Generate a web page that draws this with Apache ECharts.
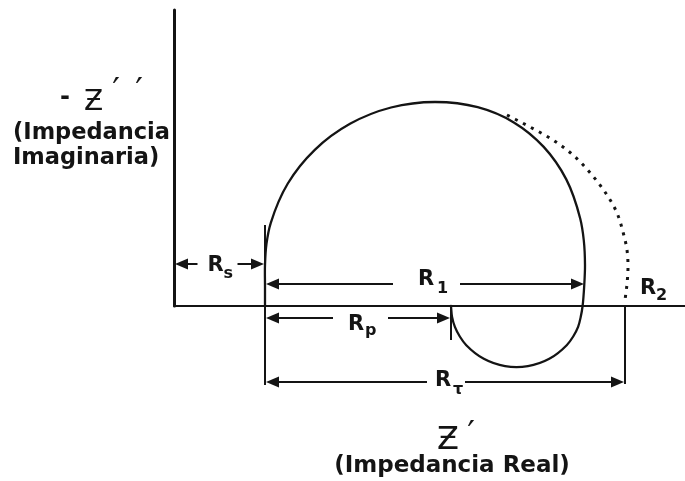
<!DOCTYPE html>
<html>
<head>
<meta charset="utf-8">
<script src="https://cdn.jsdelivr.net/npm/echarts@6/dist/echarts.min.js"></script>
<style>
  html, body { margin: 0; padding: 0; background: #ffffff; }
  #chart { width: 685px; height: 481px; }
</style>
</head>
<body>
<div id="chart"></div>
<script>
// Nyquist plot of an equivalent circuit: -Z'' against Z'.
// Resistances read along the real axis (arbitrary units).
const rs = 91;    // series resistance
const rp = 186;   // polarization resistance
const r1 = 320;   // diameter of the capacitive arc
const rt = 360;   // total resistance beyond rs

// Measured impedance path: capacitive arc, then inductive loop below the axis
const arcReal = [91, 91, 91, 92.5, 96.8, 113.8, 140.8, 176, 217, 261, 303.7, 339.8, 369.7, 392.3, 406.2, 409.8, 411, 410.2, 408.6, 406.8, 404.1, 399.2, 392.7, 375.3, 353.9, 331.1, 309.8, 292.3, 285.8, 280.9, 278, 277];
const arcImag = [0, 20, 41, 62.3, 83.2, 122.5, 156.2, 182.2, 198.5, 204, 198.8, 183.6, 159.1, 126.6, 87.5, 65.5, 41, 20, 0, -10.6, -20.9, -30.5, -39.2, -52.8, -60.1, -60.1, -52.8, -39.2, -30.5, -20.9, -10.6, 0];

// Extrapolated low-frequency branch ending at R2
const extReal = [333, 356, 379, 399, 418, 433, 443, 449, 453, 454, 453, 451];
const extImag = [191, 179, 166, 151, 131, 111, 93, 74, 56, 39, 22, 6];

// Dimension lines: start and end on the real axis
const dimNames = ['Rs', 'R1', 'Rp', 'RT'];
const dimStart = [0, rs, rs, rs];
const dimEnd = [rs, rs + r1, rs + rp, rs + rt];

// Vertical reference marks on the real axis
const markAt = [rs, rs + rp, rs + rt];

// ---- layout and styling ----
const INK = '#141414';
const LABEL_FONT = '"DejaVu Sans", sans-serif';

// level: height of each dimension line (axis units); gaps and label offsets in pixels
const dimLayout = [
  { level: 42,  gapL: 22, gapR: 18, main: 'R', sub: 's', rx: -12, ry: 2,  sx: 4,  sy: 10 },
  { level: 22,  gapL: 32, gapR: 35, main: 'R', sub: '1', rx: -7,  ry: -4, sx: 12, sy: 5 },
  { level: -12, gapL: 25, gapR: 30, main: 'R', sub: 'p', rx: -10, ry: 7,  sx: 7,  sy: 13 },
  { level: -76, gapL: 18, gapR: 20, main: 'R', sub: 'τ', rx: -10, ry: -1, sx: 8,  sy: 8 }
];
const markLayout = [
  { top: 81, bottom: -79 },
  { top: 0,  bottom: -34 },
  { top: 0,  bottom: -78 }
];
const curveStyles = [
  { stroke: INK, lineWidth: 2.3, fill: 'none', lineCap: 'round' },
  { stroke: INK, lineWidth: 3, fill: 'none', lineDash: [3, 6], lineCap: 'butt' }
];

function zip(a, b) { return a.map((v, i) => [v, b[i]]); }
const curves = [zip(arcReal, arcImag), zip(extReal, extImag)];

// Centripetal Catmull-Rom spline through pixel points, as cubic Bezier path data
function splinePath(pts) {
  const dist = (a, b) => Math.sqrt(Math.hypot(b[0] - a[0], b[1] - a[1])) || 1e-6;
  let d = 'M' + pts[0][0] + ' ' + pts[0][1];
  for (let i = 0; i < pts.length - 1; i++) {
    const p1 = pts[i], p2 = pts[i + 1];
    const p0 = i > 0 ? pts[i - 1] : [2 * p1[0] - p2[0], 2 * p1[1] - p2[1]];
    const p3 = i < pts.length - 2 ? pts[i + 2] : [2 * p2[0] - p1[0], 2 * p2[1] - p1[1]];
    const d1 = dist(p0, p1), d2 = dist(p1, p2), d3 = dist(p2, p3);
    const c1 = [0, 1].map(k => (d1 * d1 * p2[k] - d2 * d2 * p0[k] + (2 * d1 * d1 + 3 * d1 * d2 + d2 * d2) * p1[k]) / (3 * d1 * (d1 + d2)));
    const c2 = [0, 1].map(k => (d3 * d3 * p1[k] - d2 * d2 * p3[k] + (2 * d3 * d3 + 3 * d3 * d2 + d2 * d2) * p2[k]) / (3 * d3 * (d3 + d2)));
    d += ' C' + c1[0] + ' ' + c1[1] + ' ' + c2[0] + ' ' + c2[1] + ' ' + p2[0] + ' ' + p2[1];
  }
  return d;
}

function arrowHead(x, y, dir) {
  return {
    type: 'polygon',
    shape: { points: [[x, y], [x - dir * 13, y - 5.5], [x - dir * 13, y + 5.5]] },
    style: { fill: INK }
  };
}

function segment(x1, y1, x2, y2) {
  return {
    type: 'line',
    shape: { x1: x1, y1: y1, x2: x2, y2: y2 },
    style: { stroke: INK, lineWidth: 2 }
  };
}

function label(text, x, y, size, weight, align) {
  return {
    type: 'text',
    x: x, y: y,
    style: {
      text: text,
      fill: INK,
      font: (weight || 'bold') + ' ' + size + 'px ' + LABEL_FONT,
      align: align || 'left',
      verticalAlign: 'middle'
    }
  };
}

const chart = echarts.init(document.getElementById('chart'), null, { renderer: 'canvas' });

const option = {
  backgroundColor: '#ffffff',
  animation: false,
  grid: { left: 174, right: 0, top: 10, bottom: 175, containLabel: false },
  xAxis: {
    type: 'value', min: 0, max: 511,
    axisLine: { show: true, onZero: false, lineStyle: { color: INK, width: 2 } },
    axisTick: { show: false }, axisLabel: { show: false }, splitLine: { show: false }
  },
  yAxis: {
    type: 'value', min: 0, max: 296,
    axisLine: { show: true, onZero: false, lineStyle: { color: INK, width: 3 } },
    axisTick: { show: false }, axisLabel: { show: false }, splitLine: { show: false }
  },
  series: [
    {
      name: 'impedance',
      type: 'custom',
      clip: false,
      data: curves.map(c => c[0]),
      encode: { x: 0, y: 1 },
      renderItem: function (params, api) {
        const pts = curves[params.dataIndex].map(p => api.coord(p));
        return {
          type: 'path',
          shape: { pathData: splinePath(pts) },
          style: curveStyles[params.dataIndex]
        };
      }
    },
    {
      name: 'dimensions',
      type: 'custom',
      clip: false,
      data: dimNames.map((n, i) => ({ name: n, value: [dimStart[i], dimEnd[i]] })),
      encode: { x: [0, 1] },
      renderItem: function (params, api) {
        const L = dimLayout[params.dataIndex];
        const a = api.coord([api.value(0), L.level]);
        const b = api.coord([api.value(1), L.level]);
        const y = a[1];
        const mid = (a[0] + b[0]) / 2;
        return {
          type: 'group',
          children: [
            segment(a[0] + 4, y, mid - L.gapL, y),
            segment(mid + L.gapR, y, b[0] - 4, y),
            arrowHead(a[0] + 1, y, -1),
            arrowHead(b[0] - 1, y, 1),
            label(L.main, mid + L.rx, y + L.ry, 21, 'bold'),
            label(L.sub, mid + L.sx, y + L.sy, 16, 'bold')
          ]
        };
      }
    },
    {
      name: 'marks',
      type: 'custom',
      clip: false,
      data: markAt.map(v => [v]),
      encode: { x: 0 },
      renderItem: function (params, api) {
        const M = markLayout[params.dataIndex];
        const t = api.coord([api.value(0), M.top]);
        const b = api.coord([api.value(0), M.bottom]);
        return segment(t[0], t[1], b[0], b[1]);
      }
    }
  ],
  graphic: [
    // imaginary axis title
    label('-', 65, 98, 24, 'bold', 'center'),
    label('Ƶ', 93.5, 103, 28, 'normal', 'center'),
    label('′', 116, 93, 34, 'normal', 'center'),
    label('′', 139, 93, 34, 'normal', 'center'),
    label('(Impedancia', 13, 133, 22.5, 'bold'),
    label('Imaginaria)', 13, 158, 22.5, 'bold'),
    // real axis title
    label('Ƶ', 448, 441, 32, 'normal', 'center'),
    label('′', 471, 436, 34, 'normal', 'center'),
    label('(Impedancia Real)', 452, 466, 23, 'bold', 'center'),
    // second resistance
    label('R', 640, 289, 21, 'bold'),
    label('2', 656, 296, 16, 'bold')
  ]
};

chart.setOption(option);
</script>
</body>
</html>
